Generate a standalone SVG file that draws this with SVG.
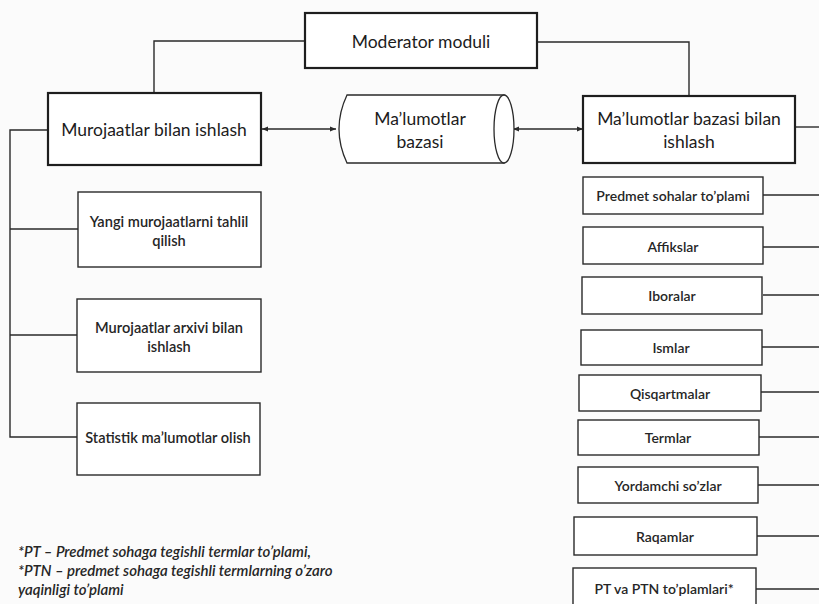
<svg xmlns="http://www.w3.org/2000/svg" width="819" height="604" viewBox="0 0 819 604">
  <style>
    .bg { fill: #fbfbfb; }
    .main { fill: #ffffff; stroke: #1e1e1e; stroke-width: 2.2; }
    .box { fill: #ffffff; stroke: #2a2a2a; stroke-width: 1.4; }
    .cyl { fill: #ffffff; stroke: #2a2a2a; stroke-width: 1.3; }
    .link { fill: none; stroke: #2a2a2a; stroke-width: 1.4; }
    .t-main { font-family: Lato, "Open Sans", sans-serif; font-size: 17.5px; fill: #1c1c1c; text-anchor: middle; dominant-baseline: central; }
    .t-box { font-family: Lato, "Open Sans", sans-serif; font-size: 14.6px; font-weight: 600; fill: #262626; text-anchor: middle; dominant-baseline: central; }
    .t-small { font-family: Lato, "Open Sans", sans-serif; font-size: 14px; font-weight: 600; fill: #262626; text-anchor: middle; dominant-baseline: central; }
    .t-note { font-family: Lato, "Open Sans", sans-serif; font-size: 15px; font-style: italic; font-weight: 600; fill: #262626; }
  </style>
  <defs>
    <marker id="arrow" viewBox="0 0 10 10" refX="10" refY="5" markerWidth="6" markerHeight="6" orient="auto-start-reverse" markerUnits="userSpaceOnUse">
      <path d="M0,1 L10,5 L0,9 Z" fill="#2a2a2a"/>
    </marker>
  </defs>

  <rect class="bg" x="0" y="0" width="819" height="604"/>

  <!-- connectors -->
  <g id="connectors">
    <!-- moderator to the two working modules -->
    <polyline class="link" points="305,41 154,41 154,93"/>
    <polyline class="link" points="537,42 689,42 689,97"/>
    <!-- two-way data flow through the database -->
    <line class="link" x1="262" y1="129" x2="336" y2="129" marker-start="url(#arrow)" marker-end="url(#arrow)"/>
    <line class="link" x1="513" y1="129" x2="583" y2="129" marker-start="url(#arrow)" marker-end="url(#arrow)"/>
    <!-- left branch to request sub-tasks -->
    <polyline class="link" points="48,130 10,130 10,437 77,437"/>
    <line class="link" x1="10" y1="229" x2="78" y2="229"/>
    <line class="link" x1="10" y1="335" x2="77" y2="335"/>
    <!-- right bus out to the edge -->
    <line class="link" x1="795" y1="127" x2="819" y2="127"/>
    <line class="link" x1="763" y1="195" x2="819" y2="195"/>
    <line class="link" x1="763" y1="247" x2="819" y2="247"/>
    <line class="link" x1="763" y1="295" x2="819" y2="295"/>
    <line class="link" x1="762" y1="347" x2="819" y2="347"/>
    <line class="link" x1="761" y1="392" x2="819" y2="392"/>
    <line class="link" x1="759" y1="437" x2="819" y2="437"/>
    <line class="link" x1="758" y1="485" x2="819" y2="485"/>
    <line class="link" x1="757" y1="536" x2="819" y2="536"/>
    <line class="link" x1="756" y1="589" x2="819" y2="589"/>
  </g>

  <g id="moderator">
    <rect class="main" x="305" y="13" width="232" height="55"/>
    <text class="t-main" x="421" y="41">Moderator moduli</text>
  </g>

  <g id="murojaatlar">
    <rect class="main" x="48" y="93" width="213" height="72"/>
    <text class="t-main" x="154" y="129">Murojaatlar bilan ishlash</text>
  </g>

  <g id="database">
    <path class="cyl" d="M347,95 L504,95 L504,163 L347,163 Q331,129 347,95 Z"/>
    <ellipse class="cyl" cx="504" cy="129" rx="10" ry="34"/>
    <text class="t-main" x="420" y="118">Ma’lumotlar</text>
    <text class="t-main" x="420" y="141">bazasi</text>
  </g>

  <g id="db-work">
    <rect class="main" x="583" y="96" width="212" height="67"/>
    <text class="t-main" x="689" y="118">Ma’lumotlar bazasi bilan</text>
    <text class="t-main" x="689" y="141">ishlash</text>
  </g>

  <g id="yangi">
    <rect class="box" x="78" y="192" width="183" height="75"/>
    <text class="t-box" x="169" y="221">Yangi murojaatlarni tahlil</text>
    <text class="t-box" x="169" y="240">qilish</text>
  </g>

  <g id="arxiv">
    <rect class="box" x="77" y="299" width="184" height="73"/>
    <text class="t-box" x="169" y="327">Murojaatlar arxivi bilan</text>
    <text class="t-box" x="169" y="346">ishlash</text>
  </g>

  <g id="statistik">
    <rect class="box" x="77" y="403" width="183" height="72"/>
    <text class="t-box" x="168" y="437">Statistik ma’lumotlar olish</text>
  </g>

  <g id="predmet">
    <rect class="box" x="583" y="177" width="180" height="37"/>
    <text class="t-small" x="673" y="195">Predmet sohalar to’plami</text>
  </g>
  <g id="affikslar">
    <rect class="box" x="583" y="227" width="180" height="37"/>
    <text class="t-small" x="673" y="246">Affikslar</text>
  </g>
  <g id="iboralar">
    <rect class="box" x="582" y="277" width="180" height="37"/>
    <text class="t-small" x="672" y="295">Iboralar</text>
  </g>
  <g id="ismlar">
    <rect class="box" x="581" y="330" width="181" height="35"/>
    <text class="t-small" x="671" y="347">Ismlar</text>
  </g>
  <g id="qisqartmalar">
    <rect class="box" x="579" y="375" width="182" height="36"/>
    <text class="t-small" x="670" y="393">Qisqartmalar</text>
  </g>
  <g id="termlar">
    <rect class="box" x="578" y="420" width="181" height="35"/>
    <text class="t-small" x="668" y="437">Termlar</text>
  </g>
  <g id="yordamchi">
    <rect class="box" x="578" y="467" width="180" height="36"/>
    <text class="t-small" x="668" y="485">Yordamchi so’zlar</text>
  </g>
  <g id="raqamlar">
    <rect class="box" x="574" y="517" width="183" height="38"/>
    <text class="t-small" x="665" y="536">Raqamlar</text>
  </g>
  <g id="pt-ptn">
    <rect class="box" x="573" y="568" width="183" height="40"/>
    <text class="t-small" x="664" y="588">PT va PTN to’plamlari*</text>
  </g>

  <g id="footnote">
    <text class="t-note" x="18" y="557">*PT – Predmet sohaga tegishli termlar to’plami,</text>
    <text class="t-note" x="18" y="576">*PTN – predmet sohaga tegishli termlarning o’zaro</text>
    <text class="t-note" x="18" y="595">yaqinligi to’plami</text>
  </g>
</svg>
